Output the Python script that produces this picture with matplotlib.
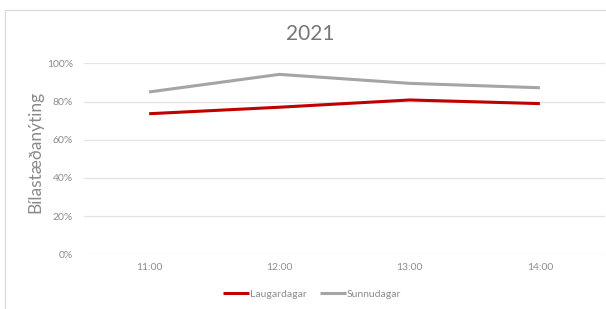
import matplotlib
matplotlib.use('Agg')
import matplotlib.pyplot as plt
from matplotlib.lines import Line2D
from matplotlib.ticker import PercentFormatter

# data
hours = ['11:00', '12:00', '13:00', '14:00']
laugardagar = [0.736, 0.770, 0.808, 0.789]
sunnudagar = [0.850, 0.942, 0.895, 0.872]
yticks = [0, 0.2, 0.4, 0.6, 0.8, 1.0]

plt.rcParams['font.family'] = ['Lato', 'DejaVu Sans']

W, H = 606, 309
fig = plt.figure(figsize=(W / 100, H / 100), dpi=100)
ax = fig.add_axes([84 / W, 1 - 254.3 / H, 521 / W, (254.3 - 63.3) / H])

x = list(range(len(hours)))
ax.plot(x, laugardagar, color='#c00000', lw=2.2, solid_capstyle='butt', label='Laugardagar')
ax.plot(x, sunnudagar, color='#a5a5a5', lw=2.2, solid_capstyle='butt', label='Sunnudagar')

ax.set_xlim(-0.5, len(hours) - 0.5)
ax.set_ylim(0, 1)
ax.set_xticks(x)
ax.set_xticklabels(hours)
ax.set_yticks(yticks)
ax.yaxis.set_major_formatter(PercentFormatter(1.0, decimals=0))
ax.tick_params(length=0, labelsize=7.5, colors='#8c8c8c')
ax.tick_params(axis='y', pad=8)
ax.tick_params(axis='x', pad=6.5)
ax.grid(axis='y', color='#e3e3e3', lw=0.9)
ax.set_axisbelow(True)
for s in ax.spines.values():
    s.set_visible(False)

fig.text(310 / W, 1 - 34 / H, '2021', ha='center', va='center', fontsize=15, color='#777777')
fig.text(35 / W, 1 - 152 / H, 'Bílastæðanýting', ha='center', va='center', rotation=90,
         fontsize=12.5, color='#8a8a8a')

fig.legend(loc='center', bbox_to_anchor=(312 / W, 1 - 294 / H), ncol=2, frameon=False,
           fontsize=7.5, labelcolor='#8c8c8c', handlelength=2.5, handletextpad=0.1,
           columnspacing=1.3)

# chart area frame (left and top edges visible)
fx, fy = 4.5 / W, 1 - 9.5 / H
fig.add_artist(Line2D([fx, fx], [0, fy], transform=fig.transFigure, color='#d9d9d9', lw=0.8))
fig.add_artist(Line2D([fx, 1], [fy, fy], transform=fig.transFigure, color='#d9d9d9', lw=0.8))

fig.savefig('out.png', dpi=100)
